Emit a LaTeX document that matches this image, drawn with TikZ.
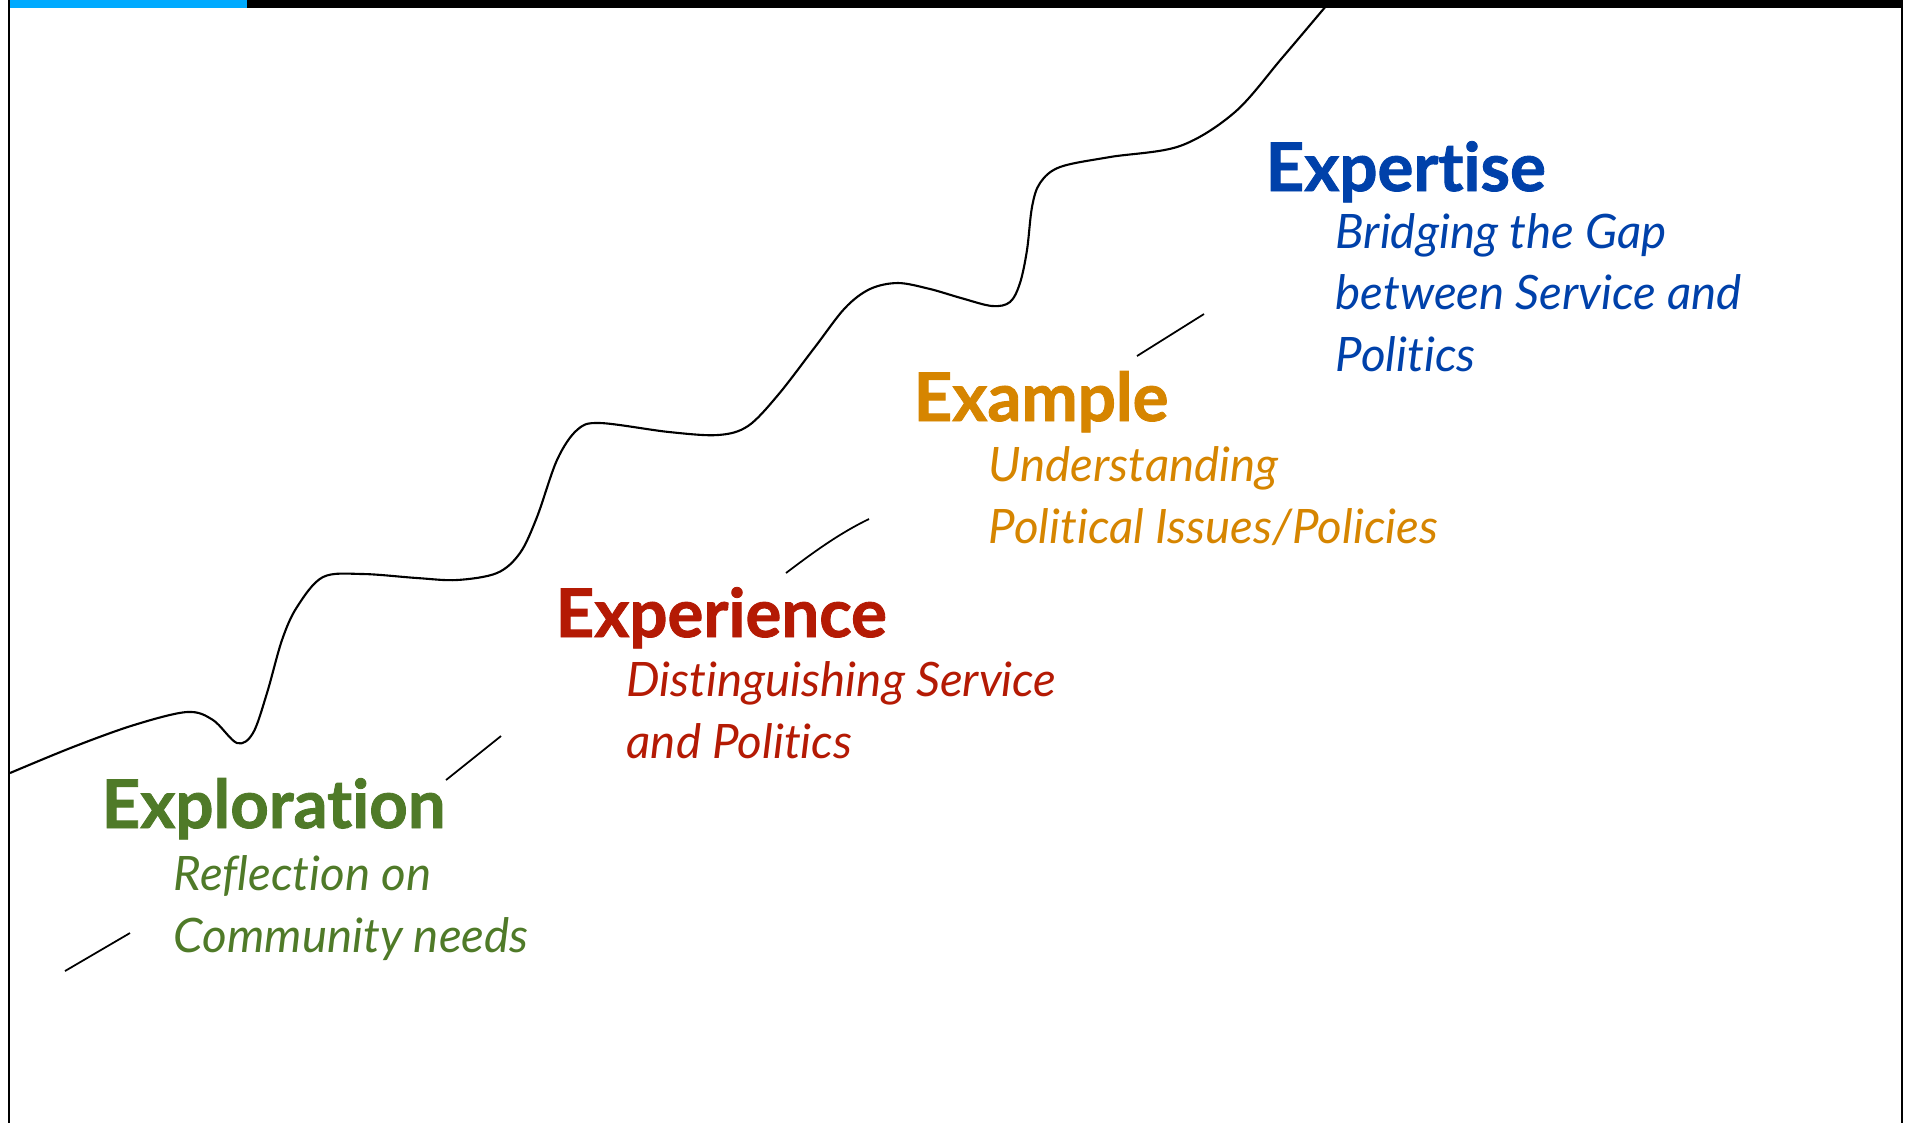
\documentclass[tikz,border=0pt]{standalone}
\usepackage{fontspec}
\setmainfont{Lato}[Ligatures={NoCommon}, BoldFeatures={FakeBold=1.3}]
\definecolor{stepgreen}{RGB}{79,122,40}
\definecolor{stepred}{RGB}{180,26,4}
\definecolor{steporange}{RGB}{214,133,0}
\definecolor{stepblue}{RGB}{0,65,170}
\definecolor{barblue}{RGB}{0,170,255}
\begin{document}
\begin{tikzpicture}[x=0.01cm,y=-0.01cm,
			heading/.style={anchor=base west, inner sep=0pt, font=\fontsize{19.1}{23}\selectfont\bfseries},
			subline/.style={anchor=base west, inner sep=0pt, align=left, font=\fontsize{13.5}{17.4}\selectfont\itshape},
			stroke/.style={black, line width=0.5pt},
			]
			\useasboundingbox (0,0) rectangle (1907,1123);

\fill[barblue] (9,0) rectangle (247,8);
\fill[black] (247,0) rectangle (1903,8);
\draw[line width=0.4pt] (9,0) -- (9,1123);
\draw[line width=0.45pt] (1902,0) -- (1902,1123);

\draw[black, line width=0.6pt] plot[smooth, tension=0.55] coordinates {(10,773) (73,747) (134,725) (187,712) (213,720) (237,743) (253,733) (267,693) (282,640) (297,607) (323,577) (363,574) (417,578) (457,580) (497,573) (520,553) (537,517) (557,460) (577,430) (600,423) (669,432) (718,435) (748,426) (778,395) (815,347) (845,308) (870,289) (898,283) (930,289) (961,298) (992,306) (1010,302) (1020,283) (1027,250) (1032,207) (1040,183) (1060,167) (1110,157) (1180,146) (1235,112) (1282,58) (1326,6)};

% bottom line of each sub text sits on the given baseline
\node[heading, stepgreen] (explor) at (101,828) {Exploration};
\node[subline, stepgreen] (explorsub) at (173,952) {Reflection on\\Community needs};
\coordinate (g1) at (65,971);
\coordinate (g2) at (130,933);
\draw[stroke] (g1) -- (g2);

\node[heading, stepred] (exper) at (555,637) {Experience};
\node[subline, stepred] (expersub) at (626,758) {Distinguishing Service\\and Politics};
\coordinate (r1) at (446,780);
\coordinate (r2) at (501,736);
\draw[stroke] (r1) -- (r2);

\node[heading, steporange] (examp) at (913,421) {Example};
\node[subline, steporange] (exampsub) at (988,543) {Understanding\\Political Issues/Policies};
\coordinate (o1) at (786,573);
\coordinate (o2) at (869,519);
\draw[stroke] (o1) .. controls (815,551) and (840,533) .. (o2);

\node[heading, stepblue] (expert) at (1265,191) {Expertise};
\node[subline, stepblue] (expertsub) at (1335,371) {Bridging the Gap\\between Service and\\Politics};
\coordinate (b1) at (1137,356);
\coordinate (b2) at (1204,314);
\draw[stroke] (b1) -- (b2);

        \end{tikzpicture}
\end{document}
